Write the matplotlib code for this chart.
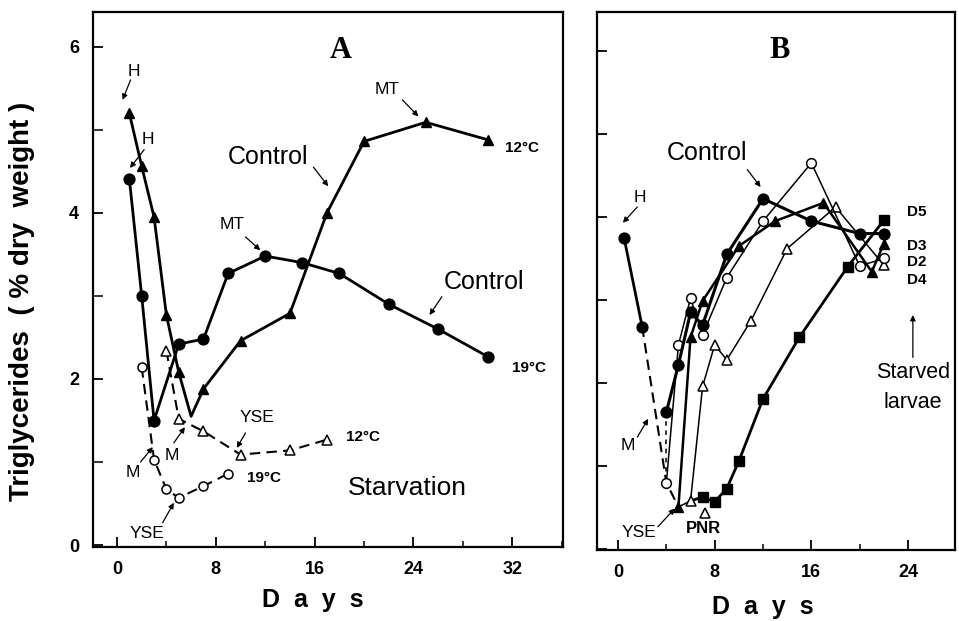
import matplotlib
matplotlib.use("Agg")
import matplotlib.pyplot as plt
from matplotlib.ticker import MultipleLocator

plt.rcParams["font.family"] = ["Liberation Sans", "DejaVu Sans"]

# ---- panel A : control vs starvation at two temperatures ----
a_ctrl19_days = [1, 2, 3, 5, 7, 9, 12, 15, 18, 22, 26, 30]
a_ctrl19_tg = [4.41, 3.0, 1.5, 2.42, 2.48, 3.27, 3.48, 3.4, 3.27, 2.9, 2.6, 2.27]
a_ctrl12_days = [1, 2, 3, 4, 5, 6, 7, 10, 14, 17, 20, 25, 30]
a_ctrl12_tg = [5.2, 4.56, 3.95, 2.77, 2.08, 1.55, 1.88, 2.46, 2.79, 4.0, 4.86, 5.09, 4.88]
a_starv19_days = [2, 3, 4, 5, 7, 9]
a_starv19_tg = [2.14, 1.03, 0.67, 0.57, 0.71, 0.86]
a_starv12_days = [4, 5, 7, 10, 14, 17]
a_starv12_tg = [2.34, 1.52, 1.37, 1.09, 1.14, 1.27]

# ---- panel B : delayed first feeding ----
b_ctrl_days = [0.5, 2]
b_ctrl_tg = [3.75, 2.68]
b_fed_days = [4, 5, 6, 7, 9, 12, 16, 20, 22]
b_fed_tg = [1.65, 2.22, 2.85, 2.7, 3.55, 4.22, 3.95, 3.8, 3.8]
b_starv_days = [2, 4, 5]
b_starv_tg = [2.68, 0.8, 0.51]
b_d2_days = [4, 5, 6, 7, 9, 12, 16, 20, 22]
b_d2_tg = [0.8, 2.46, 3.02, 2.58, 3.27, 3.95, 4.65, 3.41, 3.5]
b_d3_days = [5, 6, 7, 10, 13, 17, 21, 22]
b_d3_tg = [0.51, 2.55, 2.99, 3.65, 3.95, 4.17, 3.34, 3.68]
b_d4_days = [5, 6, 7, 8, 9, 11, 14, 18, 22]
b_d4_tg = [0.51, 0.58, 1.96, 2.46, 2.28, 2.75, 3.62, 4.12, 3.42]
b_d5_days = [6, 7, 8, 9, 10, 12, 15, 19, 22]
b_d5_tg = [0.58, 0.63, 0.57, 0.73, 1.06, 1.81, 2.55, 3.4, 3.96]

x_ticks = [0, 8, 16, 24, 32]


def arrow(ax, text_xy, tail, tip, label, size=12, weight="normal"):
    ax.text(text_xy[0], text_xy[1], label, fontsize=size, fontweight=weight,
            ha="center", va="center")
    ax.annotate("", xy=tip, xytext=tail,
                arrowprops=dict(arrowstyle="-|>", lw=0.9, color="black",
                                mutation_scale=8, shrinkA=0, shrinkB=0))


def style_axes(ax, xlim, ylim, ylabels):
    ax.set_xlim(*xlim)
    ax.set_ylim(*ylim)
    ax.xaxis.set_major_locator(MultipleLocator(8))
    ax.xaxis.set_minor_locator(MultipleLocator(4))
    ax.set_xticks([t for t in x_ticks if t < xlim[1]])
    if ylabels:
        ax.yaxis.set_major_locator(MultipleLocator(2))
        ax.yaxis.set_minor_locator(MultipleLocator(1))
    else:
        ax.yaxis.set_major_locator(MultipleLocator(1))
        ax.set_yticklabels([])
    ax.tick_params(which="major", direction="in", length=7, width=1.3,
                   labelsize=13, pad=10)
    ax.tick_params(which="minor", direction="in", length=4, width=1.1)
    ax.tick_params(axis="y", which="both", length=7)
    for lab in ax.get_xticklabels() + ax.get_yticklabels():
        lab.set_fontweight("bold")
    for sp in ax.spines.values():
        sp.set_linewidth(1.6)


fig = plt.figure(figsize=(9.59, 6.21), dpi=100)
axA = fig.add_axes([0.097, 0.119, 0.490, 0.862])
axB = fig.add_axes([0.6225, 0.114, 0.3735, 0.867])

# panel A
axA.plot(a_ctrl19_days, a_ctrl19_tg, "-", color="black", lw=2.0,
         marker="o", ms=7.8, mfc="black")
axA.plot(a_ctrl12_days, a_ctrl12_tg, "-", color="black", lw=2.0,
         marker="^", ms=7.8, mfc="black", markevery=[0, 1, 2, 3, 4, 6, 7, 8, 9, 10, 11, 12])
axA.plot(a_starv19_days, a_starv19_tg, "--", color="black", lw=1.5,
         dashes=(5, 3), marker="o", ms=6.5, mfc="white", mew=1.1)
axA.plot(a_starv12_days, a_starv12_tg, "--", color="black", lw=1.5,
         dashes=(5, 3), marker="^", ms=7, mfc="white", mew=1.1)
style_axes(axA, (-1.94, 36.1), (-0.024, 6.42), True)

axA.text(18.1, 5.96, "A", fontsize=22, fontweight="bold", family="Liberation Serif",
         ha="center", va="center")
arrow(axA, (1.4, 5.70), (1.1, 5.60), (0.45, 5.36), "H", 12.5)
arrow(axA, (2.5, 4.88), (2.2, 4.76), (1.05, 4.54), "H", 12.5)
arrow(axA, (9.3, 3.86), (10.4, 3.71), (11.6, 3.55), "MT", 12.5)
arrow(axA, (21.9, 5.48), (23.1, 5.36), (24.4, 5.16), "MT", 12.5)
arrow(axA, (12.2, 4.67), (15.9, 4.55), (17.1, 4.32), "Control", 18)
arrow(axA, (29.7, 3.17), (26.3, 2.99), (25.3, 2.77), "Control", 18)
arrow(axA, (11.3, 1.54), (10.4, 1.35), (9.7, 1.17), "YSE", 12.5)
arrow(axA, (2.4, 0.14), (3.7, 0.27), (4.6, 0.51), "YSE", 12.5)
arrow(axA, (1.3, 0.87), (1.9, 1.0), (2.9, 1.18), "M", 12.5)
arrow(axA, (4.4, 1.08), (4.6, 1.23), (5.5, 1.42), "M", 12.5)
axA.text(23.5, 0.69, "Starvation", fontsize=19, ha="center", va="center")
axA.text(31.4, 4.78, "12°C", fontsize=11, fontweight="bold", va="center")
axA.text(32.0, 2.13, "19°C", fontsize=11, fontweight="bold", va="center")
axA.text(18.5, 1.30, "12°C", fontsize=11, fontweight="bold", va="center")
axA.text(10.5, 0.81, "19°C", fontsize=11, fontweight="bold", va="center")

# panel B
axB.plot(b_ctrl_days, b_ctrl_tg, "-", color="black", lw=2.0,
         marker="o", ms=7.8, mfc="black")
axB.plot(b_starv_days, b_starv_tg, "--", color="black", lw=1.5, dashes=(5, 3))
axB.plot([b_fed_days[0], b_d2_days[0]], [b_fed_tg[0], b_d2_tg[0]], "--",
         color="black", lw=1.1, dashes=(3, 3))
axB.plot(b_d5_days, b_d5_tg, "-", color="black", lw=2.0,
         marker="s", ms=6.5, mfc="black", markevery=slice(1, None))
axB.plot(b_d4_days, b_d4_tg, "-", color="black", lw=1.1,
         marker="^", ms=7.5, mfc="white", mew=1.1, markevery=slice(1, None))
axB.plot(b_d2_days, b_d2_tg, "-", color="black", lw=1.1,
         marker="o", ms=7, mfc="white", mew=1.1)
axB.plot(b_d3_days, b_d3_tg, "-", color="black", lw=1.8,
         marker="^", ms=7.8, mfc="black")
axB.plot(b_fed_days, b_fed_tg, "-", color="black", lw=2.2,
         marker="o", ms=7.8, mfc="black")
style_axes(axB, (-1.74, 27.9), (-0.012, 6.47), False)

axB.text(13.4, 6.01, "B", fontsize=22, fontweight="bold", family="Liberation Serif",
         ha="center", va="center")
arrow(axB, (1.8, 4.24), (1.6, 4.12), (0.4, 3.93), "H", 12.5)
arrow(axB, (7.4, 4.77), (10.7, 4.57), (11.8, 4.36), "Control", 18)
arrow(axB, (0.8, 1.25), (1.6, 1.35), (2.5, 1.57), "M", 12.5)
arrow(axB, (1.7, 0.20), (3.3, 0.27), (4.7, 0.49), "YSE", 12.5)
axB.plot([7.2], [0.43], marker="^", ms=7, mfc="white", mec="black", mew=1.1)
axB.text(7.1, 0.25, "PNR", fontsize=12, fontweight="bold", ha="center", va="center")
axB.text(23.9, 4.06, "D5", fontsize=11, fontweight="bold", va="center")
axB.text(23.9, 3.65, "D3", fontsize=11, fontweight="bold", va="center")
axB.text(23.9, 3.46, "D2", fontsize=11, fontweight="bold", va="center")
axB.text(23.9, 3.24, "D4", fontsize=11, fontweight="bold", va="center")
axB.annotate("", xy=(24.4, 2.82), xytext=(24.4, 2.31),
             arrowprops=dict(arrowstyle="-|>", lw=0.9, color="black",
                             mutation_scale=8, shrinkA=0, shrinkB=0))
axB.text(24.4, 2.13, "Starved", fontsize=15.5, ha="center", va="center")
axB.text(24.4, 1.77, "larvae", fontsize=15.5, ha="center", va="center")

fig.text(0.023, 0.515, "Triglycerides  ( % dry  weight )", rotation=90,
         fontsize=20, fontweight="bold", ha="center", va="center")
fig.text(0.326, 0.034, "D  a  y  s", fontsize=18, fontweight="bold",
         ha="center", va="center")
fig.text(0.795, 0.022, "D  a  y  s", fontsize=18, fontweight="bold",
         ha="center", va="center")

fig.savefig("out.png", dpi=100)
